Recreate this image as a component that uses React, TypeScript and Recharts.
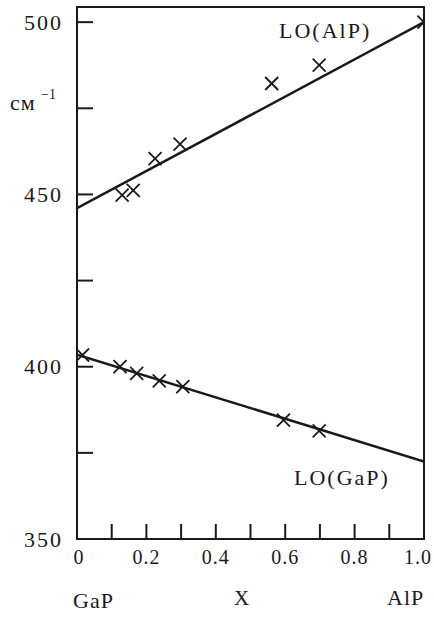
import React from 'react';
import { ComposedChart, Line, Scatter, XAxis, YAxis } from 'recharts';

// Axis ticks
const xTicks = [0, 0.1, 0.2, 0.3, 0.4, 0.5, 0.6, 0.7, 0.8, 0.9, 1.0];
const xLabeled = [0, 0.2, 0.4, 0.6, 0.8, 1.0];
const yTicks = [350, 375, 400, 425, 450, 475, 500];
const yLabeled = [350, 400, 450, 500];
const xDomain = [0, 1];
const yDomain = [350, 504.4];

// Measured points: LO(AlP)
const alpX = [0.13, 0.162, 0.225, 0.297, 0.561, 0.698, 1.0];
const alpY = [449.8, 451.2, 460.4, 464.6, 482.2, 487.5, 500];
// Measured points: LO(GaP)
const gapX = [0.016, 0.124, 0.172, 0.237, 0.305, 0.595, 0.698];
const gapY = [403.4, 400.0, 398.1, 395.9, 394.2, 384.5, 381.4];

// Fitted lines
const alpFitX = [0, 1];
const alpFitY = [446, 500];
const gapFitX = [0, 1];
const gapFitY = [403.5, 372.5];

const zip = (xs: number[], ys: number[]) => xs.map((x, i) => ({ x, y: ys[i] }));
const alpPts = zip(alpX, alpY);
const gapPts = zip(gapX, gapY);
const alpFit = zip(alpFitX, alpFitY);
const gapFit = zip(gapFitX, gapFitY);

const INK = '#1a1a1a';
const FONT = '"Liberation Serif", "DejaVu Serif", serif';

// Layout
const W = 434;
const H = 617;
const M_TOP = 7;
const M_RIGHT = 10;
const Y_AXIS_W = 77;
const X_AXIS_H = 78;

const YTick = (props: any) => {
  const { x, y, payload } = props;
  const v = payload.value;
  return (
    <g>
      <line x1={x} y1={y} x2={x + 16} y2={y} stroke={INK} strokeWidth={2} />
      {yLabeled.includes(v) && (
        <text x={x - 14} y={y} textAnchor="end" dominantBaseline="central" fontFamily={FONT} fontSize={22} letterSpacing={2} fill={INK}>
          {v}
        </text>
      )}
    </g>
  );
};

const XTick = (props: any) => {
  const { x, y, payload } = props;
  const v = payload.value;
  const lab = xLabeled.some((t) => Math.abs(t - v) < 1e-6);
  const txt = v === 0 ? '0' : v.toFixed(1);
  const dx = v >= 1 ? -6 : v === 0 ? 2 : 0;
  return (
    <g>
      <line x1={x} y1={y} x2={x} y2={y - 15} stroke={INK} strokeWidth={2} />
      {lab && (
        <text x={x + dx} y={y + 25} textAnchor="middle" fontFamily={FONT} fontSize={20} letterSpacing={1} fill={INK}>
          {txt}
        </text>
      )}
    </g>
  );
};

const Cross = (props: any) => {
  const { cx, cy } = props;
  const r = 6.5;
  return (
    <g>
      <line x1={cx - r} y1={cy - r} x2={cx + r} y2={cy + r} stroke={INK} strokeWidth={1.8} />
      <line x1={cx - r} y1={cy + r} x2={cx + r} y2={cy - r} stroke={INK} strokeWidth={1.8} />
    </g>
  );
};

export default function App() {
  const right = W - M_RIGHT;
  const bottom = H - X_AXIS_H;
  return (
    <div style={{ position: 'absolute', left: 0, top: 0, width: W, height: H, background: '#fff' }}>
      <ComposedChart width={W} height={H} margin={{ top: M_TOP, right: M_RIGHT, bottom: 0, left: 0 }}>
        <XAxis
          xAxisId="b"
          dataKey="x"
          type="number"
          domain={xDomain}
          ticks={xTicks}
          interval={0}
          height={X_AXIS_H}
          tickSize={0}
          tickMargin={0}
          tick={<XTick />}
          axisLine={{ stroke: INK, strokeWidth: 2 }}
          allowDataOverflow
        />
        <YAxis
          yAxisId="l"
          dataKey="y"
          type="number"
          domain={yDomain}
          ticks={yTicks}
          interval={0}
          width={Y_AXIS_W}
          tickSize={0}
          tickMargin={0}
          tick={<YTick />}
          axisLine={{ stroke: INK, strokeWidth: 2 }}
          allowDataOverflow
        />
        <Line xAxisId="b" yAxisId="l" data={alpFit} dataKey="y" type="linear" stroke={INK} strokeWidth={2.5} dot={false} isAnimationActive={false} />
        <Line xAxisId="b" yAxisId="l" data={gapFit} dataKey="y" type="linear" stroke={INK} strokeWidth={2.5} dot={false} isAnimationActive={false} />
        <Scatter xAxisId="b" yAxisId="l" data={alpPts} dataKey="y" shape={<Cross />} isAnimationActive={false} />
        <Scatter xAxisId="b" yAxisId="l" data={gapPts} dataKey="y" shape={<Cross />} isAnimationActive={false} />
      </ComposedChart>
      <svg width={W} height={H} style={{ position: 'absolute', left: 0, top: 0, pointerEvents: 'none' }}>
        <rect x={Y_AXIS_W} y={M_TOP} width={right - Y_AXIS_W} height={bottom - M_TOP} fill="none" stroke={INK} strokeWidth={2} />
        <g fontFamily={FONT} fill={INK}>
          <text x={279} y={38} fontSize={22} letterSpacing={2}>LO(AlP)</text>
          <text x={294} y={485} fontSize={22} letterSpacing={2}>LO(GaP)</text>
          <text x={10} y={110} fontSize={22} letterSpacing={1}>см</text>
          <text x={41} y={99} fontSize={14}>−1</text>
          <text x={73} y={608} fontSize={22} letterSpacing={1}>GaP</text>
          <text x={234} y={605} fontSize={21}>X</text>
          <text x={387} y={605} fontSize={22} letterSpacing={1}>AlP</text>
        </g>
      </svg>
    </div>
  );
}
